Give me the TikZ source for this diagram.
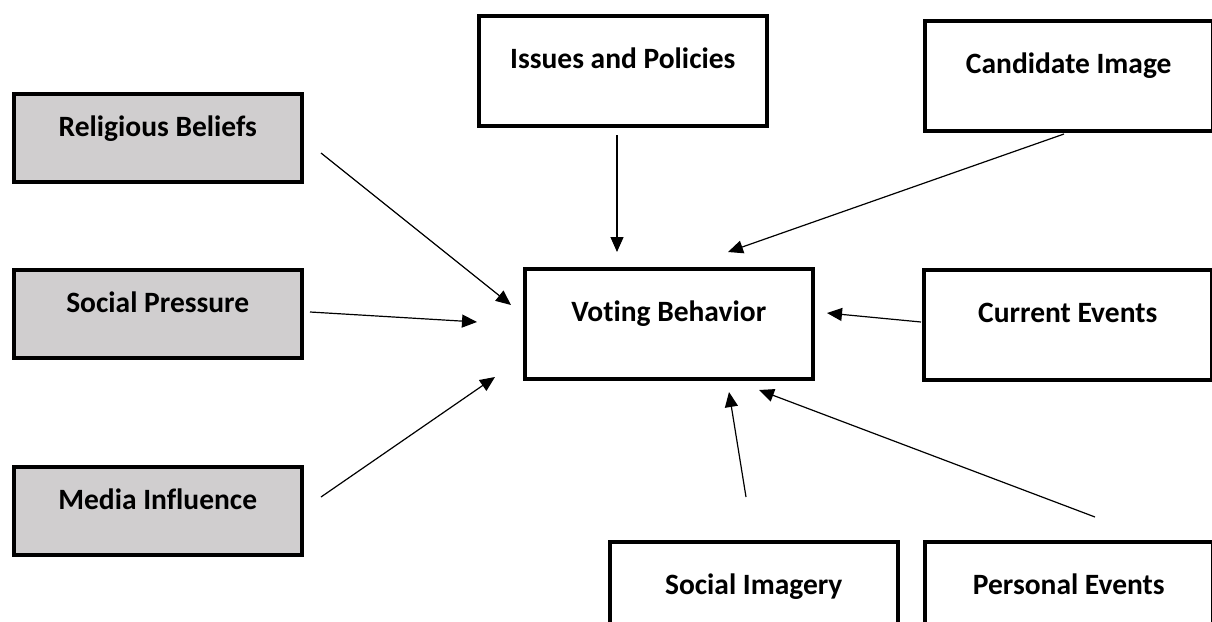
\documentclass[tikz,border=0pt]{standalone}
\usepackage{fontspec}
\setmainfont{Carlito}[Ligatures=NoCommon]
\usetikzlibrary{arrows.meta}
\definecolor{boxgray}{RGB}{208,206,207}

\begin{document}
\begin{tikzpicture}[x=1pt, y=-1pt,
	factor/.style={draw, line width=3.5pt, rectangle, anchor=north west, inner sep=0pt,
		minimum width=288pt, font=\bfseries\fontsize{29.5}{33}\selectfont},
	tall/.style={text height=53pt, text depth=57pt},
	low/.style={text height=43pt, text depth=45pt, fill=boxgray},
	arr/.style={line width=1.2pt, -{Triangle[length=15pt,width=13pt]}}]
	\clip (0,0) rectangle (1212,621);
	% left column (gray)
	\begin{scope}[every node/.style={factor, low}]
		\node (rel) at (12,92){Religious Beliefs};
		\node (soc) at (12,268){Social Pressure};
		\node (med) at (12,465){Media Influence};
	\end{scope}
	% the rest
	\begin{scope}[every node/.style={factor, tall}]
		\node (iss) at (477,14){Issues and Policies};
		\node (cand) at (923,19){Candidate Image};
		\node (vote) at (523,267){Voting Behavior};
		\node (cur) at (922,268){Current Events};
		\node (img) at (608,540){Social Imagery};
		\node (pers) at (923,540){Personal Events};
	\end{scope}
	% arrow ends
	\coordinate (rel1) at (321,153);  \coordinate (rel2) at (511,305);
	\coordinate (soc1) at (310,312);  \coordinate (soc2) at (477,322);
	\coordinate (med1) at (321,497);  \coordinate (med2) at (495,377);
	\coordinate (iss1) at (617,135);  \coordinate (iss2) at (617,252);
	\coordinate (cand1) at (1064,134); \coordinate (cand2) at (728,252);
	\coordinate (cur1) at (921,322);  \coordinate (cur2) at (827,313);
	\coordinate (img1) at (746,497);  \coordinate (img2) at (729,392);
	\coordinate (pers1) at (1095,517); \coordinate (pers2) at (759,390);
	\foreach \a in {rel, soc, med, iss, cand, cur, img, pers}
		\draw[arr] (\a1) -- (\a2);
\end{tikzpicture}
\end{document}
